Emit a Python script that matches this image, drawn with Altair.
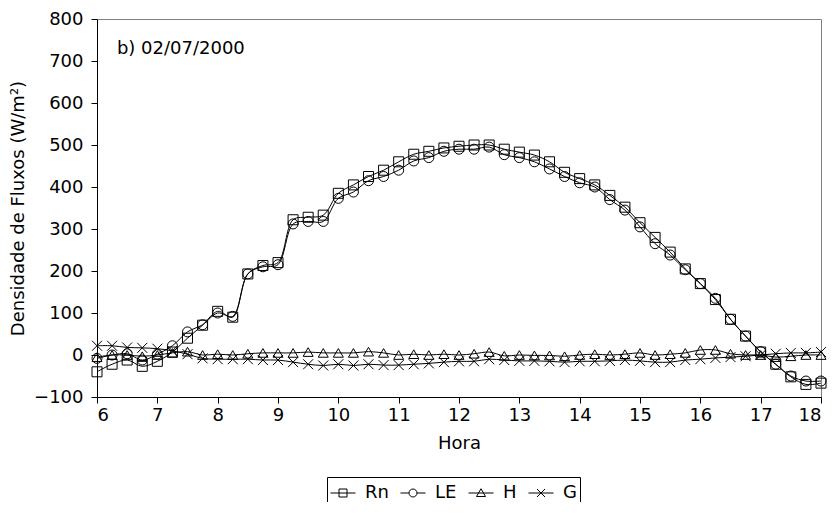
import altair as alt
import pandas as pd

hora = [6.0, 6.25, 6.5, 6.75, 7.0, 7.25, 7.5, 7.75, 8.0, 8.25, 8.5, 8.75,
        9.0, 9.25, 9.5, 9.75, 10.0, 10.25, 10.5, 10.75, 11.0, 11.25, 11.5, 11.75,
        12.0, 12.25, 12.5, 12.75, 13.0, 13.25, 13.5, 13.75, 14.0, 14.25, 14.5, 14.75,
        15.0, 15.25, 15.5, 15.75, 16.0, 16.25, 16.5, 16.75, 17.0, 17.25, 17.5, 17.75, 18.0]

rn = [-40, -22, -12, -27, -15, 7, 40, 71, 104, 90, 193, 213,
      220, 322, 328, 333, 385, 405, 425, 440, 460, 478, 485, 493,
      497, 500, 500, 490, 483, 476, 460, 435, 420, 405, 380, 352,
      315, 280, 245, 205, 170, 132, 85, 45, 7, -22, -52, -70, -67]

le = [-8, 0, 3, -12, 2, 22, 55, 72, 100, 92, 193, 210,
      215, 312, 318, 318, 373, 388, 415, 425, 440, 462, 470, 485,
      490, 490, 495, 477, 470, 460, 443, 425, 410, 400, 370, 345,
      305, 265, 238, 203, 170, 135, 85, 45, 8, -22, -50, -62, -62]

h = [-5, 0, 0, -3, 0, 5, 8, 0, 2, 0, 3, 5,
     5, 5, 7, 5, 5, 5, 8, 5, 0, 2, 0, 2,
     0, 3, 7, -2, 0, -1, -1, -3, 0, 2, 0, 2,
     5, 0, 2, 5, 12, 12, 3, 0, 0, -5, -3, 0, 0]

g = [22, 22, 18, 17, 15, 10, 2, -8, -10, -10, -10, -12,
     -12, -17, -22, -25, -22, -25, -22, -24, -24, -22, -20, -17,
     -15, -15, -10, -12, -14, -14, -15, -17, -15, -15, -14, -12,
     -14, -17, -17, -12, -10, -7, -5, -3, 0, 3, 5, 5, 7]

series_names = ["Rn", "LE", "H", "G"]
series_values = [rn, le, h, g]

y_ticks = [-100, 0, 100, 200, 300, 400, 500, 600, 700, 800]
x_ticks = [6, 7, 8, 9, 10, 11, 12, 13, 14, 15, 16, 17, 18]

annot_x = [6.33]
annot_y = [728]
annot_text = ["b) 02/07/2000"]

rows = []
for name, vals in zip(series_names, series_values):
    for t, v in zip(hora, vals):
        rows.append({"hora": t, "valor": v, "serie": name})
df = pd.DataFrame(rows)
ann = pd.DataFrame({"x": annot_x, "y": annot_y, "t": annot_text})

FONT = "DejaVu Sans"
FS = 18

marker_shapes = ["square", "circle", "triangle-up", "M-1,-1L1,1M-1,1L1,-1"]
legend_shapes = [
    "M-1,0H1M-0.32,-0.32H0.32V0.32H-0.32Z",
    "M-1,0H-0.32M0.32,0H1M0.32,0A0.32,0.32,0,1,1,-0.32,0A0.32,0.32,0,1,1,0.32,0",
    "M-1,0H1M0,-0.34L0.36,0.28H-0.36Z",
    "M-1,0H1M-0.32,-0.32L0.32,0.32M-0.32,0.32L0.32,-0.32",
]

x_enc = alt.X("hora:Q", scale=alt.Scale(domain=[6, 18], nice=False, zero=False),
              axis=alt.Axis(values=x_ticks, format="d", title="Hora", grid=False,
                            tickSize=6, labelPadding=3,
                            titleY=46, titleBaseline="middle"))
y_enc = alt.Y("valor:Q", scale=alt.Scale(domain=[-100, 800], nice=False, zero=False),
              axis=alt.Axis(values=y_ticks, title="Densidade de Fluxos (W/m²)", grid=False,
                            tickSize=6, labelPadding=8,
                            titleX=-79, titleY=189, titleAngle=270, titleAlign="center",
                            titleBaseline="middle"))

base = alt.Chart(df)

lines = base.mark_line(interpolate="catmull-rom", color="black", strokeWidth=1).encode(
    x=x_enc, y=y_enc, detail="serie:N"
)

points = base.mark_point(filled=False, color="black", size=100, strokeWidth=1, opacity=1).encode(
    x=x_enc, y=y_enc,
    shape=alt.Shape("serie:N", scale=alt.Scale(domain=series_names, range=marker_shapes), legend=None),
)

legend_layer = base.transform_filter("false").mark_point(
    filled=False, color="black", size=625, strokeWidth=1, opacity=1
).encode(
    x=x_enc, y=y_enc,
    shape=alt.Shape("serie:N", scale=alt.Scale(domain=series_names, range=legend_shapes),
                    legend=alt.Legend(orient="none", legendX=230, legendY=458,
                                      direction="horizontal", title=None,
                                      strokeColor="black", fillColor="white", padding=3,
                                      labelFontSize=FS, labelColor="black", labelFont=FONT,
                                      symbolSize=625, symbolStrokeWidth=1,
                                      symbolStrokeColor="black", columnPadding=9,
                                      labelOffset=9)),
)

text = alt.Chart(ann).mark_text(align="left", baseline="middle", fontSize=FS,
                                color="black", font=FONT).encode(
    x=alt.X("x:Q"), y=alt.Y("y:Q"), text="t:N"
)

chart = alt.layer(lines, points, legend_layer, text).resolve_scale(
    shape="independent"
).properties(
    width=724, height=378,
    autosize=alt.AutoSizeParams(type="none"),
    padding={"left": 89, "top": 11, "right": 6, "bottom": 105},
).configure(
    font=FONT,
).configure_view(
    stroke="#808080", strokeWidth=1
).configure_axis(
    domainColor="black", tickColor="black", labelColor="black", titleColor="black",
    labelFontSize=FS, titleFontSize=FS, titleFontWeight="normal",
    labelFont=FONT, titleFont=FONT
)

chart.save("out.html", embed_options={"renderer": "svg", "actions": False})
